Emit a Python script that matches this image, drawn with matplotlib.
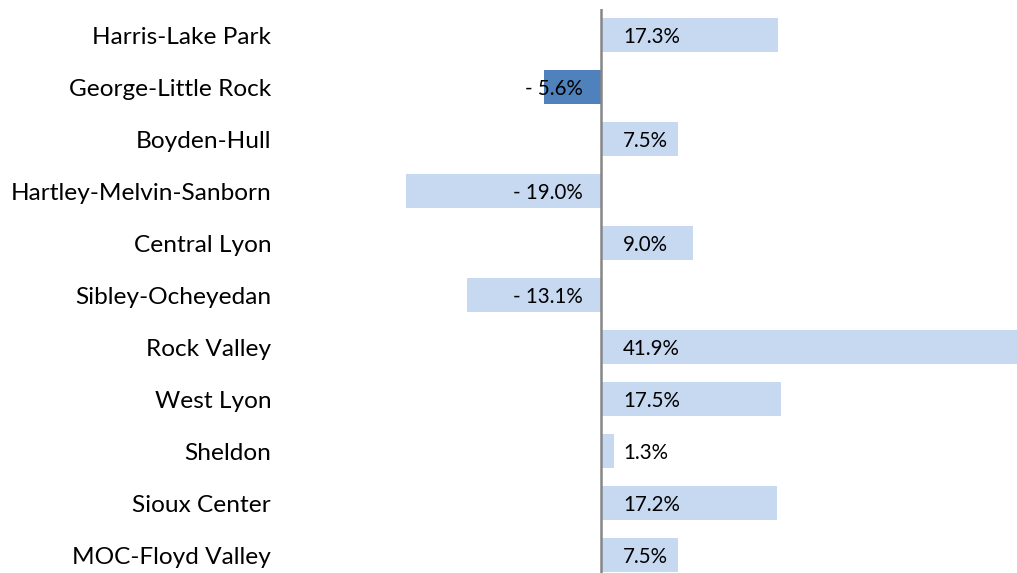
import matplotlib
matplotlib.use("Agg")
from matplotlib import pyplot as plt
from matplotlib.transforms import offset_copy

# 数据
districts = ["Harris-Lake Park", "George-Little Rock", "Boyden-Hull",
             "Hartley-Melvin-Sanborn", "Central Lyon", "Sibley-Ocheyedan",
             "Rock Valley", "West Lyon", "Sheldon", "Sioux Center",
             "MOC-Floyd Valley"]
changes = [17.3, -5.6, 7.5, -19.0, 9.0, -13.1, 41.9, 17.5, 1.3, 17.2, 7.5]
highlight = "George-Little Rock"

light_blue = "#C6D9F1"
dark_blue = "#4F81BD"

plt.rcParams['font.family'] = ['Lato', 'DejaVu Sans']

fig = plt.figure(figsize=(10.17, 5.73), dpi=100)
W, H = 1017, 573
ax = fig.add_axes([290 / W, -8 / H, (W - 290) / W, 572 / H])

ypos = list(range(len(districts)))
colors = [dark_blue if d == highlight else light_blue for d in districts]
ax.barh(ypos, changes, height=0.67, color=colors, zorder=2)

ax.set_ylim(len(districts) - 0.5, -0.5)
ax.set_xlim(-30.34, 40.56)

# 零线
ax.axvline(0, color="#868686", linewidth=1.8, zorder=3)

# 数值标签
for y, v in zip(ypos, changes):
    if v >= 0:
        tr = offset_copy(ax.transData, fig=fig, x=22, y=-2, units="dots")
        ax.text(0, y, "{:.1f}%".format(v), transform=tr, ha="left",
                va="center", fontsize=14.8, color="black", zorder=4)
    else:
        tr = offset_copy(ax.transData, fig=fig, x=-18, y=-2, units="dots")
        ax.text(0, y, "- {:.1f}%".format(-v), transform=tr, ha="right",
                va="center", fontsize=14.8, color="black", zorder=4)

ax.set_yticks(ypos)
ax.set_yticklabels(districts, fontsize=17.6)
ax.tick_params(axis="y", length=0, pad=13.5)
ax.set_xticks([])
for s in ax.spines.values():
    s.set_visible(False)

fig.savefig("out.png", dpi=100)
